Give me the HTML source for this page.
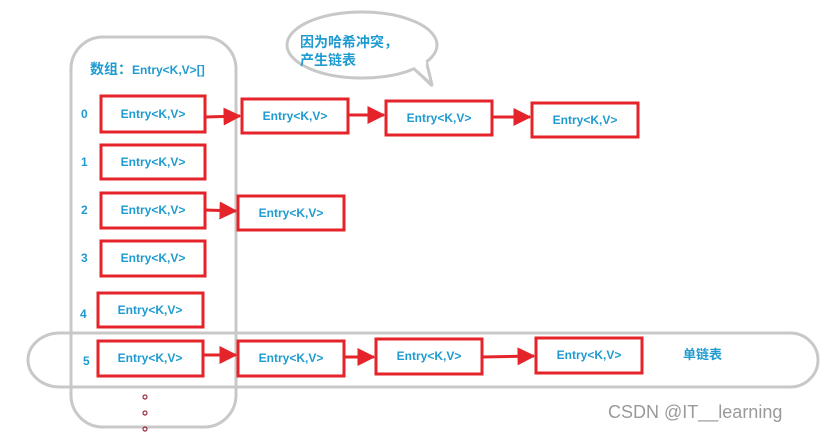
<!DOCTYPE html>
<html><head><meta charset="utf-8"><style>
html,body{margin:0;padding:0;background:#fff;}
svg{display:block;}
text{font-family:"Liberation Sans","Noto Sans CJK SC",sans-serif;font-weight:bold;fill:#1e9bd0;}
.b{fill:#fff;stroke:#e5232a;stroke-width:3;}
.t{font-size:12px;text-anchor:middle;dominant-baseline:central;}
.i{font-size:12px;dominant-baseline:central;}
.a{stroke:#e5232a;stroke-width:3;fill:none;}
</style></head><body>
<svg width="829" height="432" viewBox="0 0 829 432" xmlns="http://www.w3.org/2000/svg">
<defs><marker id="m" markerWidth="6" markerHeight="6" refX="5.5" refY="3" orient="auto" markerUnits="strokeWidth"><path d="M0,0 L6,3 L0,6 z" fill="#e5232a"/></marker></defs>
<rect x="71" y="37" width="165" height="390" rx="32" fill="none" stroke="#c8c8c8" stroke-width="3"/>
<path d="M60,333 H790 A28,27 0 0 1 790,387 H60 A32,27 0 0 1 60,333 z" fill="none" stroke="#c8c8c8" stroke-width="3"/>
<path d="M420,68 L432,86 L420,74" fill="#fff" stroke="#c8c8c8" stroke-width="3"/>
<ellipse cx="362" cy="45" rx="75" ry="33" fill="#fff" stroke="#c8c8c8" stroke-width="3"/>
<path d="M413,68 L432,85 L426,60" fill="#fff" stroke="#c8c8c8" stroke-width="3" stroke-linejoin="round"/>
<path d="M410,64 L426,62" stroke="#fff" stroke-width="5"/>
<text x="300" y="47" style="font-size:14px">因为哈希冲突，</text>
<text x="300" y="65" style="font-size:14px">产生链表</text>
<text x="90" y="74" style="font-size:14px">数组：<tspan style="font-size:12px">Entry&lt;K,V&gt;[]</tspan></text>
<g>
<rect class="b" x="101" y="96" width="104" height="36"/><text class="t" x="153" y="114">Entry&lt;K,V&gt;</text>
<rect class="b" x="242" y="99" width="106" height="34"/><text class="t" x="295" y="116">Entry&lt;K,V&gt;</text>
<rect class="b" x="386" y="101" width="106" height="34"/><text class="t" x="439" y="118">Entry&lt;K,V&gt;</text>
<rect class="b" x="532" y="103" width="106" height="34"/><text class="t" x="585" y="120">Entry&lt;K,V&gt;</text>
<rect class="b" x="101" y="145" width="104" height="34"/><text class="t" x="153" y="162">Entry&lt;K,V&gt;</text>
<rect class="b" x="101" y="193" width="104" height="35"/><text class="t" x="153" y="210">Entry&lt;K,V&gt;</text>
<rect class="b" x="238" y="196" width="106" height="34"/><text class="t" x="291" y="213">Entry&lt;K,V&gt;</text>
<rect class="b" x="101" y="241" width="104" height="35"/><text class="t" x="153" y="258">Entry&lt;K,V&gt;</text>
<rect class="b" x="98" y="293" width="105" height="34"/><text class="t" x="150" y="310">Entry&lt;K,V&gt;</text>
<rect class="b" x="98" y="341" width="105" height="35"/><text class="t" x="150" y="358">Entry&lt;K,V&gt;</text>
<rect class="b" x="238" y="341" width="106" height="35"/><text class="t" x="291" y="358">Entry&lt;K,V&gt;</text>
<rect class="b" x="376" y="339" width="106" height="35"/><text class="t" x="429" y="356">Entry&lt;K,V&gt;</text>
<rect class="b" x="536" y="338" width="106" height="35"/><text class="t" x="589" y="355">Entry&lt;K,V&gt;</text>
</g>
<g>
<line class="a" x1="205" y1="117" x2="240" y2="116" marker-end="url(#m)"/>
<line class="a" x1="348" y1="115" x2="384" y2="115" marker-end="url(#m)"/>
<line class="a" x1="492" y1="117" x2="530" y2="117" marker-end="url(#m)"/>
<line class="a" x1="205" y1="210" x2="236" y2="211" marker-end="url(#m)"/>
<line class="a" x1="203" y1="355" x2="236" y2="355" marker-end="url(#m)"/>
<line class="a" x1="344" y1="357" x2="374" y2="357" marker-end="url(#m)"/>
<line class="a" x1="482" y1="357" x2="534" y2="356" marker-end="url(#m)"/>
</g>
<text class="i" x="81" y="114">0</text>
<text class="i" x="81" y="162">1</text>
<text class="i" x="81" y="210">2</text>
<text class="i" x="81" y="258">3</text>
<text class="i" x="80" y="314">4</text>
<text class="i" x="83" y="361">5</text>
<text x="683" y="359" style="font-size:13px">单链表</text>
<circle cx="145" cy="397" r="2" fill="none" stroke="#a0283a" stroke-width="1.2"/>
<circle cx="145" cy="413" r="2" fill="none" stroke="#a0283a" stroke-width="1.2"/>
<circle cx="145" cy="429" r="2" fill="none" stroke="#a0283a" stroke-width="1.2"/>
<text x="608" y="418" style="font-size:18px;font-weight:normal;fill:#9a9a9a">CSDN @IT__learning</text>
</svg>
</body></html>
